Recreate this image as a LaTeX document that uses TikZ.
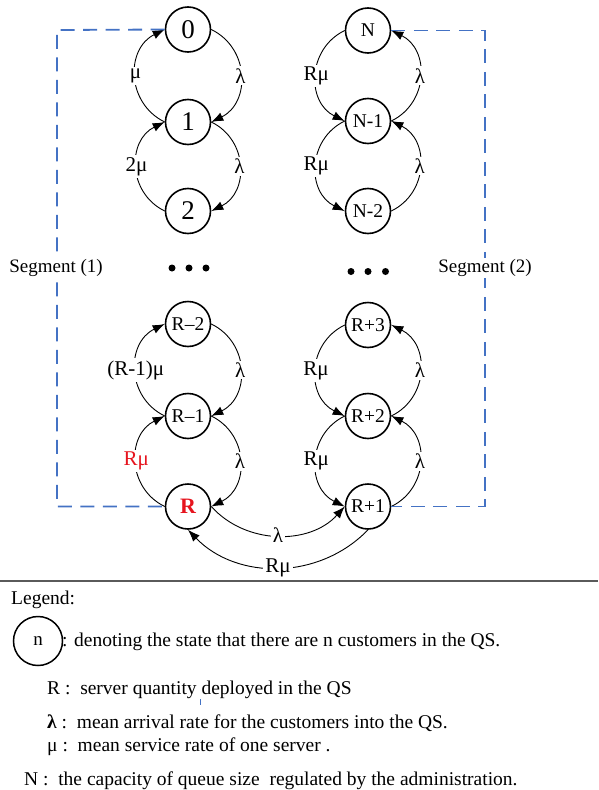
\documentclass[tikz,border=0pt]{standalone}
\usepackage{fontspec}
\setmainfont{Liberation Serif}
\usetikzlibrary{arrows.meta}
\definecolor{segblue}{RGB}{68,114,196}
\definecolor{statered}{RGB}{230,20,30}
\definecolor{rulegray}{RGB}{90,90,90}
\newcommand{\fs}[1]{\fontsize{#1}{#1}\selectfont}
\begin{document}
\begin{tikzpicture}[x=1pt,y=1pt,
  qstate/.style={circle, draw, line width=1.6pt, minimum size=45pt, inner sep=0pt, font=\fs{19.5}},
  bigstate/.style={qstate, font=\fs{27}},
  trans/.style={line width=0.9pt, -{Latex[length=12pt,width=9pt]}},
  arcup/.style={bend left=64, looseness=1.2},
  arcdown/.style={bend right=64, looseness=1.2},
  rate/.style={midway, fill=white, inner sep=2pt, font=\fs{21}},
  seg/.style={segblue, line width=1.8pt, dash pattern=on 14pt off 8.5pt},
  segtext/.style={fill=white, inner sep=1pt, font=\fs{19}},
  dotmark/.style={circle, fill, inner sep=0pt, minimum size=7pt},
  legtext/.style={anchor=base west, inner sep=0pt, font=\fs{19.5}}
]
\useasboundingbox (0,0) rectangle (598,-790);

% ---- segment (1): states 0 ... R
\node[bigstate] (s0) at (188,-29.5) {0};
\node[bigstate] (s1) at (188,-122) {1};
\node[bigstate] (s2) at (188,-211) {2};
\node[qstate] (sRm2) at (188,-324) {R\textendash2};
\node[qstate] (sRm1) at (188,-416) {R\textendash1};
\node[qstate, text=statered, font=\fs{22}\bfseries] (sR) at (188,-506.5) {R};

% ---- segment (2): states R+1 ... N
\node[qstate] (sN) at (368,-30.5) {N};
\node[qstate] (sN1) at (368,-121) {N-1};
\node[qstate] (sN2) at (368,-211) {N-2};
\node[qstate] (sRp3) at (368,-325) {R+3};
\node[qstate] (sRp2) at (368,-416) {R+2};
\node[qstate] (sRp1) at (368,-506.5) {R+1};

% ellipsis between the upper and lower states
\node[dotmark] (dl1) at (172,-268) {};
\node[dotmark] (dl2) at (189,-268) {};
\node[dotmark] (dl3) at (206,-268) {};
\node[dotmark] (dr1) at (351,-271.5) {};
\node[dotmark] (dr2) at (368,-271.5) {};
\node[dotmark] (dr3) at (385.5,-271.5) {};

% ---- transitions, left column
\draw[trans] (s1.west) to[arcup] node[rate] {μ} (s0.west);
\draw[trans] (s0.east) to[arcup] node[rate] {λ} (s1.east);
\draw[trans] (s2.west) to[arcup] node[rate] {2μ} (s1.west);
\draw[trans] (s1.east) to[arcup] node[rate] {λ} (s2.east);
\draw[trans] (sRm1.west) to[arcup] node[rate] {(R-1)μ} (sRm2.west);
\draw[trans] (sRm2.east) to[arcup] node[rate] {λ} (sRm1.east);
\draw[trans] (sR.west) to[arcup] node[rate, text=statered] {Rμ} (sRm1.west);
\draw[trans] (sRm1.east) to[arcup] node[rate] {λ} (sR.east);

% ---- transitions, right column
\draw[trans] (sN.west) to[arcdown] node[rate] {Rμ} (sN1.west);
\draw[trans] (sN1.east) to[arcdown] node[rate] {λ} (sN.east);
\draw[trans] (sN1.west) to[arcdown] node[rate] {Rμ} (sN2.west);
\draw[trans] (sN2.east) to[arcdown] node[rate] {λ} (sN1.east);
\draw[trans] (sRp3.west) to[arcdown] node[rate] {Rμ} (sRp2.west);
\draw[trans] (sRp2.east) to[arcdown] node[rate] {λ} (sRp3.east);
\draw[trans] (sRp2.west) to[arcdown] node[rate] {Rμ} (sRp1.west);
\draw[trans] (sRp1.east) to[arcdown] node[rate] {λ} (sRp2.east);

% ---- transitions between R and R+1
\draw[trans] (sR.east) to[bend right=48] node[rate] {λ} (sRp1.west);
\draw[trans] (sRp1.south) to[bend left=46] node[rate] {Rμ} (sR.south);

% ---- dashed segment frames
\coordinate (tl) at (57,-30);
\coordinate (bl) at (57,-506.5);
\coordinate (tr) at (485,-30.5);
\coordinate (br) at (485,-506.5);
\draw[seg] (s0.west) -- (tl) -- (bl) -- (sR.west);
\draw[seg] (sN.east) -- (tr) -- (br) -- (sRp1.east);
\node[segtext] (seg1) at (56,-268) {Segment (1)};
\node[segtext] (seg2) at (485,-268) {Segment (2)};

% ---- legend
\coordinate (rl) at (0,-581);
\coordinate (rr) at (598,-581);
\draw[rulegray, line width=1.8pt] (rl) -- (rr);
\node[legtext] (leg) at (11,-604) {Legend:};
\node[circle, draw, line width=1.5pt, minimum size=49pt, inner sep=0pt, font=\fs{19}] (legn) at (38,-641) {n};
\node[legtext] (legtxt) at (62,-646.5) {: denoting the state that there are n customers in the QS.};
\node[legtext] (legR) at (47,-694) {R :\ \ server quantity deployed in the QS};
\node[legtext] (legL) at (47,-728) {\textbf{λ} :\ \ mean arrival rate for the customers into the QS.};
\node[legtext] (legM) at (47,-751) {μ :\ \ mean service rate of one server .};
\node[legtext] (legN) at (24,-785) {N :\ \ the capacity of queue size\ \ regulated by the administration.};
\coordinate (tk1) at (200,-699);
\coordinate (tk2) at (200,-705);
\draw[segblue, line width=0.6pt] (tk1) -- (tk2);
\end{tikzpicture}
\end{document}
